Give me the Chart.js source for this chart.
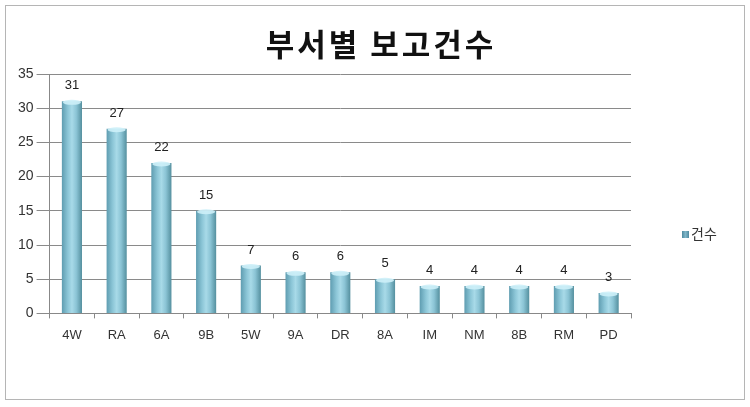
<!DOCTYPE html>
<html><head><meta charset="utf-8">
<script src="https://cdn.jsdelivr.net/npm/chart.js@4"></script>
<style>
html,body{margin:0;padding:0;background:#fff;}
#wrap{position:absolute;left:0;top:0;width:750px;height:407px;}
#frame{position:absolute;left:5px;top:5px;width:740px;height:395px;border:1px solid #b5b5b5;box-sizing:border-box;pointer-events:none;}
</style></head><body>
<div id="wrap"><canvas id="c" width="750" height="407"></canvas><div id="frame"></div></div>
<script>
const categories = ['4W','RA','6A','9B','5W','9A','DR','8A','IM','NM','8B','RM','PD'];
const counts = [31,27,22,15,7,6,6,5,4,4,4,4,3];
const seriesName = '건수';
const yTicks = [0,5,10,15,20,25,30,35];
const titleText = '부서별 보고건수';

function barGradient(ctx){
  const chart = ctx.chart;
  const xs = chart.scales && chart.scales.x;
  if(!xs || !chart.chartArea) return '#86c1d3';
  const cx = xs.getPixelForValue(ctx.dataIndex);
  const w = 20;
  const g = chart.ctx.createLinearGradient(cx - w/2, 0, cx + w/2, 0);
  g.addColorStop(0, '#5f9db1');
  g.addColorStop(0.3, '#8cc6d7');
  g.addColorStop(0.5, '#a8dae8');
  g.addColorStop(0.72, '#8bc4d5');
  g.addColorStop(1, '#55909f');
  return g;
}

const decor = {
  id:'decor',
  afterDatasetsDraw(chart){
    const c = chart.ctx;
    const meta = chart.getDatasetMeta(0);
    c.save();
    meta.data.forEach((el)=>{
      const w = el.width;
      c.fillStyle = 'rgba(205,240,248,0.9)';
      c.beginPath();
      c.ellipse(el.x, el.y + 1, w/2 - 1, 2.5, 0, 0, Math.PI*2);
      c.fill();
    });
    c.font = '13px "Liberation Sans", Arial, sans-serif';
    c.fillStyle = '#222';
    c.textAlign = 'center';
    c.textBaseline = 'alphabetic';
    meta.data.forEach((el,i)=>{
      c.fillText(String(counts[i]), el.x, el.y - 12);
    });
    // title
    c.font = 'bold 31px "Noto Sans CJK KR", sans-serif';
    c.letterSpacing = '3px';
    c.fillStyle = '#111';
    c.textBaseline = 'middle';
    c.fillText(titleText, 381, 44);
    c.letterSpacing = '0px';
    // legend
    const lg = c.createLinearGradient(682,0,689,0);
    lg.addColorStop(0,'#4f8aa0'); lg.addColorStop(0.5,'#7fb6c8'); lg.addColorStop(1,'#4f8aa0');
    c.fillStyle = lg;
    c.fillRect(682, 231, 7, 7);
    c.font = '14px "Noto Sans CJK KR", sans-serif';
    c.fillStyle = '#333';
    c.textAlign = 'left';
    c.fillText(seriesName, 691, 234);
    c.restore();
  }
};

new Chart(document.getElementById('c'), {
  type:'bar',
  data:{labels:categories, datasets:[{label:seriesName, data:counts, backgroundColor:barGradient, borderWidth:0, barPercentage:0.45, categoryPercentage:1}]},
  plugins:[decor],
  options:{
    responsive:false, animation:false, devicePixelRatio:1,
    layout:{padding:{left:15,right:119,top:74,bottom:55}},
    plugins:{
      title:{display:false},
      legend:{display:false},
      tooltip:{enabled:false}
    },
    scales:{
      x:{grid:{display:true, drawOnChartArea:false, offset:true, color:'#888', tickLength:5}, border:{color:'#888'}, ticks:{color:'#333', font:{size:13, family:'"Liberation Sans", Arial, sans-serif'}, padding:9}},
      y:{min:0, max:35, afterBuildTicks(s){s.ticks = yTicks.map(v=>({value:v}));}, grid:{color:'#8a8a8a', tickLength:13}, border:{color:'#888'}, ticks:{color:'#333', font:{size:14, family:'"Liberation Sans", Arial, sans-serif'}, padding:3}}
    }
  }
});
</script>
</body></html>
